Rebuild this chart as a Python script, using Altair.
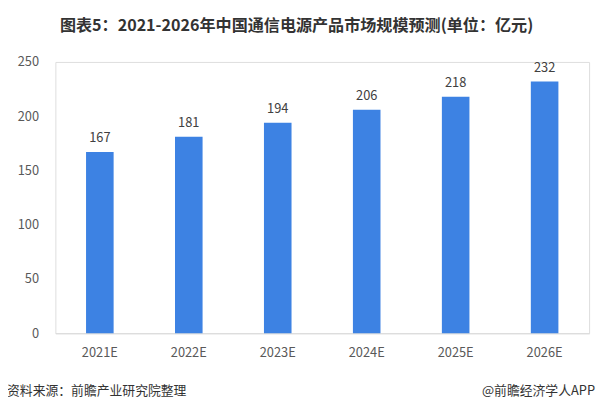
import altair as alt
import pandas as pd

years = ["2021E", "2022E", "2023E", "2024E", "2025E", "2026E"]
values = [167, 181, 194, 206, 218, 232]
y_ticks = [0, 50, 100, 150, 200, 250]

title_text = "图表5：2021-2026年中国通信电源产品市场规模预测(单位：亿元)"
source_text = "资料来源：前瞻产业研究院整理"
brand_text = "@前瞻经济学人APP"

df = pd.DataFrame({"year": years, "value": values})
FONT = "Noto Sans CJK SC"

x_enc = alt.X("year:N", sort=years, title=None,
              scale=alt.Scale(paddingInner=0.69, paddingOuter=0.345),
              axis=alt.Axis(labelAngle=0, labelFontSize=13, labelColor="#595959",
                            labelFont=FONT, labelPadding=14, ticks=False,
                            domainColor="#d9d9d9", domainWidth=1))
y_enc = alt.Y("value:Q", title=None,
              scale=alt.Scale(domain=[0, 250], nice=False),
              axis=alt.Axis(values=y_ticks, labelFontSize=13, labelColor="#595959",
                            labelFont=FONT, labelPadding=17, ticks=False,
                            domain=False, grid=False))

base = alt.Chart(df)
bars = base.mark_bar(color="#3D82E3").encode(x=x_enc, y=y_enc)
labels = base.mark_text(baseline="bottom", dy=-7, fontSize=13, color="#404040",
                        font=FONT).encode(x=alt.X("year:N", sort=years),
                                          y="value:Q", text="value:Q")

foot_df = pd.DataFrame({"t": [source_text]})
brand_df = pd.DataFrame({"t": [brand_text]})
footer_left = alt.Chart(foot_df).mark_text(align="left", baseline="middle", fontSize=13,
                                           color="#333333", font=FONT).encode(
    x=alt.value(-49), y=alt.value(334), text="t:N")
footer_right = alt.Chart(brand_df).mark_text(align="right", baseline="middle", fontSize=13,
                                             color="#333333", font=FONT).encode(
    x=alt.value(547), y=alt.value(334), text="t:N")

chart = alt.layer(bars, labels, footer_left, footer_right).properties(
    width=541, height=275,
    title=alt.Title(title_text, fontSize=16.3, font=FONT, fontWeight="bold",
                    color="#333333", anchor="middle", dx=-26, offset=22),
    autosize=alt.AutoSizeParams(type="none"),
    padding={"left": 48, "top": 52, "right": 7, "bottom": 69},
).configure_view(stroke=None).configure(background="white")

chart.save("out.html", embed_options={"renderer": "svg", "actions": False})
